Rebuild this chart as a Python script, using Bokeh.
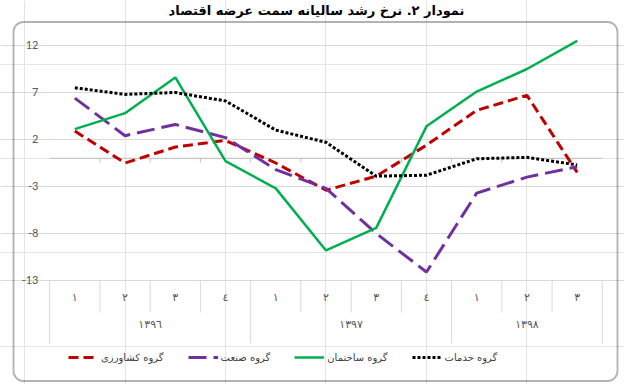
from bokeh.plotting import figure
from bokeh.models import (Range1d, Grid, FixedTicker, BoxAnnotation, Legend,
                          LegendItem)
from bokeh.core.properties import value
from bokeh.embed import file_html
from bokeh.resources import INLINE

# ---------------- data ----------------
title_text = "نمودار ۲. نرخ رشد سالیانه سمت عرضه اقتصاد"
quarters = ["١", "٢", "٣", "٤", "١", "٢", "٣", "٤", "١", "٢", "٣"]
years = ["١٣٩٦", "١٣٩٧", "١٣٩٨"]
year_quarter_counts = [4, 4, 3]

agriculture = [2.9, -0.5, 1.2, 1.9, -0.5, -3.4, -1.9, 1.4, 5.1, 6.7, -1.5]
industry = [6.4, 2.4, 3.6, 2.2, -1.2, -3.2, -8.0, -12.1, -3.7, -2.0, -0.9]
construction = [3.1, 4.8, 8.6, -0.3, -3.2, -9.8, -7.4, 3.4, 7.1, 9.5, 12.5]
services = [7.5, 6.8, 7.0, 6.1, 3.0, 1.7, -1.9, -1.8, -0.05, 0.1, -0.7]

series_names = ["گروه کشاورزی", "گروه صنعت", "گروه ساختمان", "گروه خدمات"]
y_ticks = [12, 7, 2, -3, -8, -13]

# ---------------- layout constants ----------------
n = len(quarters)
xs = list(range(1, n + 1))
FA_FONT = "DejaVu Sans"
GRID_C = "#d9d9d9"
LABEL_C = "#595959"

p = figure(width=624, height=384, output_backend="svg", toolbar_location=None,
           title=None,
           x_range=Range1d(-0.4789, 11.9415), y_range=Range1d(-24.064, 16.787),
           x_axis_location=None, y_axis_location=None,
           min_border_left=0, min_border_right=0, min_border_top=0, min_border_bottom=0,
           outline_line_color=None, background_fill_color="white",
           border_fill_color="white")

# chart title, centred over the chart box
p.text(x=[5.811], y=[15.67], text=[title_text],
       text_align="center", text_baseline="middle", text_font=value(FA_FONT),
       text_font_size=value("13px"), text_font_style="bold", text_color="black")

# horizontal grid lines (value axis), limited to the category span
p.add_layout(Grid(dimension=1, ticker=FixedTicker(ticks=y_ticks),
                  bounds=(0.5, n + 0.5), grid_line_color=GRID_C, grid_line_width=1))

# category axis line at zero with small tick marks at the category boundaries
p.segment(x0=[0.5], y0=[0], x1=[n + 0.5], y1=[0], line_color="#bfbfbf", line_width=1)
inner_bounds = [i + 0.5 for i in range(1, n)]
p.segment(x0=inner_bounds, y0=[0] * len(inner_bounds), x1=inner_bounds,
          y1=[-0.45] * len(inner_bounds), line_color="#bfbfbf", line_width=1)

# category table below the plot (two levels)
year_bounds = [0.5]
for c in year_quarter_counts:
    year_bounds.append(year_bounds[-1] + c)
all_bounds = [i + 0.5 for i in range(0, n + 1)]
q_bottom, y_bottom = -16.40, -19.70
bottoms = [y_bottom if b in year_bounds else q_bottom for b in all_bounds]
p.segment(x0=all_bounds, y0=[-13] * len(all_bounds), x1=all_bounds, y1=bottoms,
          line_color=GRID_C, line_width=1)

p.text(x=xs, y=[-14.86] * n, text=quarters, text_align="center",
       text_baseline="middle", text_font=value(FA_FONT),
       text_font_size=value("11px"), text_color=LABEL_C)
year_centers = [(year_bounds[i] + year_bounds[i + 1]) / 2 for i in range(len(years))]
p.text(x=year_centers, y=[-17.68] * len(years), text=years, text_align="center",
       text_baseline="middle", text_font=value(FA_FONT),
       text_font_size=value("11px"), text_color=LABEL_C)

# value-axis tick labels
p.text(x=[0.277] * len(y_ticks), y=y_ticks, text=[str(t) for t in y_ticks],
       text_align="right", text_baseline="middle", text_font=value("Lato"),
       text_font_size=value("11px"), text_color=LABEL_C)

# ---------------- series ----------------
r_agr = p.line(xs, agriculture, line_color="#C00000", line_width=3, line_dash="10 5")
r_ind = p.line(xs, industry, line_color="#7030A0", line_width=3, line_dash="18 7")
r_con = p.line(xs, construction, line_color="#00B050", line_width=2.5)
r_ser = p.line(xs, services, line_color="black", line_width=3, line_dash="3 2")

legend = Legend(items=[LegendItem(label=value(series_names[0]), renderers=[r_agr]),
                       LegendItem(label=value(series_names[1]), renderers=[r_ind]),
                       LegendItem(label=value(series_names[2]), renderers=[r_con]),
                       LegendItem(label=value(series_names[3]), renderers=[r_ser])],
                orientation="horizontal", location=(68, 19), padding=0, margin=0,
                spacing=24, glyph_width=30, glyph_height=16, label_standoff=3,
                label_text_font=FA_FONT, label_text_font_size="10px",
                label_text_color="#404040", border_line_alpha=0,
                background_fill_alpha=0)
p.add_layout(legend)

# rounded frame around the chart
p.add_layout(BoxAnnotation(left=-0.220, right=11.802, top=14.50, bottom=-23.69,
                           fill_alpha=0, line_color="black", line_width=1.8,
                           border_radius=10))

open("out.html", "w").write(file_html(p, INLINE))
